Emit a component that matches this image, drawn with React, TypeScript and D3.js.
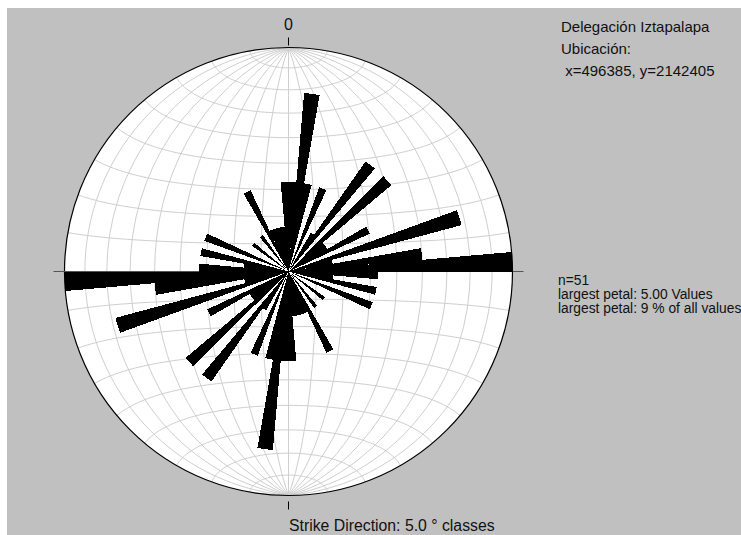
import React, { useEffect, useRef } from 'react';
import * as d3 from 'd3';

// strike classes (5 degree bins, 0-180; each is also drawn at +180)
const classStarts = [
  0, 5, 10, 15, 20, 25, 30, 35, 40, 45, 50, 55, 60, 65, 70, 75, 80, 85,
  90, 95, 100, 105, 110, 115, 120, 125, 130, 135, 140, 145, 150, 155, 160, 165, 170, 175,
];
const classCounts = [
  2, 4, 2, 0, 2, 0, 1, 3, 0, 3, 1, 1, 2, 0, 4, 1, 3, 5,
  2, 1, 2, 0, 2, 0, 0, 1, 0, 0, 1, 0, 2, 1, 1, 1, 1, 2,
];
const classWidth = 5;
const maxPetal = 5;

const titleLines = ['Delegación Iztapalapa', 'Ubicación:', ' x=496385, y=2142405'];
const statLines = ['n=51', 'largest petal: 5.00 Values', 'largest petal: 9 % of all values'];
const footer = 'Strike Direction: 5.0 ° classes';
const northLabel = '0';

const App: React.FC = () => {
  const svgRef = useRef<SVGSVGElement>(null);

  useEffect(() => {
    if (!svgRef.current) return;
    const W = 741, H = 535;
    const cx = 288.5, cy = 271.5, R = 224;
    const font = '"Liberation Sans", Arial, sans-serif';

    const svg = d3.select(svgRef.current);
    svg.selectAll('*').remove();
    svg.attr('width', W).attr('height', H);

    svg.append('rect')
      .attr('x', 7).attr('y', 8)
      .attr('width', W - 7).attr('height', H - 8)
      .attr('fill', '#c0c0c0');

    // equal-area (Schmidt) net
    const proj = d3.geoAzimuthalEqualArea()
      .rotate([0, 0])
      .scale(R / Math.SQRT2)
      .translate([cx, cy])
      .clipAngle(90)
      .precision(0.2);
    const path = d3.geoPath(proj);

    svg.append('circle')
      .attr('cx', cx).attr('cy', cy).attr('r', R)
      .attr('fill', '#ffffff');

    const grat = d3.geoGraticule()
      .extentMinor([[-180, -88], [180, 88]])
      .extentMajor([[-180, -89.9], [180, 89.9]])
      .step([10, 10]);

    const g = svg.append('g');
    grat.lines().forEach(l => {
      const lat0 = l.coordinates[0][1] === l.coordinates[1][1];
      if (lat0 && Math.abs(l.coordinates[0][1]) < 1e-6) return;
      g.append('path')
        .datum(l)
        .attr('d', path as any)
        .attr('fill', 'none')
        .attr('stroke', '#cfcfcf')
        .attr('stroke-width', 1);
    });

    svg.append('circle')
      .attr('cx', cx).attr('cy', cy).attr('r', R)
      .attr('fill', 'none')
      .attr('stroke', '#000')
      .attr('stroke-width', 1.2);

    // E-W axis with ticks
    svg.append('line')
      .attr('x1', cx - R - 11).attr('x2', cx + R + 11)
      .attr('y1', cy).attr('y2', cy)
      .attr('stroke', '#555').attr('stroke-width', 1);
    svg.append('line')
      .attr('x1', cx).attr('x2', cx)
      .attr('y1', cy - R - 10).attr('y2', cy - R - 2)
      .attr('stroke', '#000');
    svg.append('line')
      .attr('x1', cx).attr('x2', cx)
      .attr('y1', cy + R + 6).attr('y2', cy + R + 14)
      .attr('stroke', '#000');

    // petals
    const rScale = d3.scaleLinear().domain([0, maxPetal]).range([0, R]);
    const arc = d3.arc<any>();
    const petals: { a: number; n: number }[] = [];
    classStarts.forEach((a, i) => {
      if (!classCounts[i]) return;
      petals.push({ a, n: classCounts[i] });
      petals.push({ a: a + 180, n: classCounts[i] });
    });
    svg.append('g')
      .attr('transform', `translate(${cx},${cy})`)
      .selectAll('path')
      .data(petals)
      .join('path')
      .attr('d', d => arc({
        innerRadius: 0,
        outerRadius: rScale(d.n),
        startAngle: (d.a * Math.PI) / 180,
        endAngle: ((d.a + classWidth) * Math.PI) / 180,
      }))
      .attr('fill', '#000')
      .attr('shape-rendering', 'crispEdges');

    // texts
    svg.append('text')
      .attr('x', cx).attr('y', 30)
      .attr('text-anchor', 'middle')
      .attr('font-family', font).attr('font-size', 16)
      .attr('fill', '#111')
      .text(northLabel);

    const tl = [32, 54, 76];
    titleLines.forEach((t, i) => {
      svg.append('text')
        .attr('x', 561).attr('y', tl[i])
        .attr('font-family', font).attr('font-size', 15)
        .attr('fill', '#111')
        .attr('xml:space', 'preserve')
        .style('white-space', 'pre')
        .text(t);
    });

    const sl = [285, 299, 313];
    statLines.forEach((t, i) => {
      svg.append('text')
        .attr('x', 558).attr('y', sl[i])
        .attr('font-family', font).attr('font-size', 13.8)
        .attr('fill', '#111')
        .text(t);
    });

    svg.append('text')
      .attr('x', 289).attr('y', 531)
      .attr('font-family', font).attr('font-size', 15.8)
      .attr('fill', '#111')
      .text(footer);
  }, []);

  return (
    <svg ref={svgRef} style={{ position: 'absolute', left: 0, top: 0, display: 'block' }}></svg>
  );
};

export default App;
